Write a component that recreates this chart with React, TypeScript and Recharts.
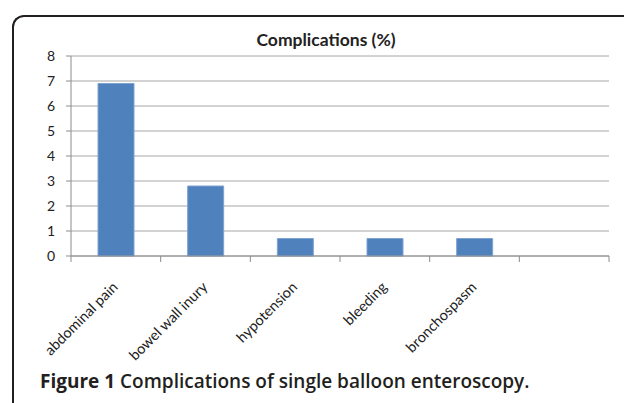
import { BarChart, Bar, XAxis, YAxis, CartesianGrid } from "recharts"

const categories = ["abdominal pain", "bowel wall inury", "hypotension", "bleeding", "bronchospasm", ""]
const complications = [6.9, 2.8, 0.7, 0.7, 0.7, null]
const yTicks = [0, 1, 2, 3, 4, 5, 6, 7, 8]

const data = categories.map((name, i) => ({ name, value: complications[i] }))

const CHART_W = 624
const CHART_H = 403
const PLOT_LEFT = 71
const PLOT_RIGHT = 609
const BAND = (PLOT_RIGHT - PLOT_LEFT) / categories.length
const FONT = "Lato, 'Open Sans', sans-serif"

// label rotated like excel, plus tick marks at the category boundaries
function CategoryTick(props: any) {
  const { x, y, payload, index } = props
  const left = x - BAND / 2
  return (
    <g>
      <line x1={left} y1={y - 8} x2={left} y2={y - 2} stroke="#8c8c8c" />
      {index === categories.length - 1 && (
        <line x1={left + BAND} y1={y - 8} x2={left + BAND} y2={y - 2} stroke="#8c8c8c" />
      )}
      <text
        x={x + 3}
        y={y + 24}
        textAnchor="end"
        transform={`rotate(-45 ${x + 3} ${y + 24})`}
        fontSize={14.5}
        fill="#222"
        fontFamily={FONT}
      >
        {payload.value}
      </text>
    </g>
  )
}

export default function App() {
  return (
    <div style={{ position: "fixed", left: 0, top: 0, width: CHART_W, height: CHART_H, background: "#fff", overflow: "hidden" }}>
      {/* frame, open at right and bottom */}
      <div
        style={{
          position: "absolute",
          left: 12,
          top: 15,
          width: 700,
          height: 500,
          borderLeft: "2px solid #231f20",
          borderTop: "2px solid #231f20",
          borderTopLeftRadius: 12,
        }}
      />
      <div
        style={{
          position: "absolute",
          left: 226,
          width: 200,
          top: 29,
          textAlign: "center",
          fontFamily: FONT,
          fontWeight: 700,
          fontSize: 17.5,
          color: "#222",
        }}
      >
        Complications (%)
      </div>
      <div style={{ position: "absolute", left: 0, top: 0 }}>
        <BarChart
          width={CHART_W}
          height={CHART_H}
          data={data}
          margin={{ top: 56, right: CHART_W - PLOT_RIGHT, left: PLOT_LEFT - 40, bottom: 47 }}
          barCategoryGap="30%"
        >
          <CartesianGrid vertical={false} stroke="#a6a6a6" strokeWidth={1} />
          <YAxis
            width={40}
            domain={[0, 8]}
            ticks={yTicks}
            interval={0}
            axisLine={{ stroke: "#8c8c8c" }}
            tickLine={{ stroke: "#8c8c8c" }}
            tickSize={5}
            tickMargin={11}
            tick={{ fontSize: 14, fill: "#222", fontFamily: FONT }}
          />
          <XAxis
            dataKey="name"
            height={100}
            interval={0}
            axisLine={{ stroke: "#8c8c8c" }}
            tickLine={false}
            tick={<CategoryTick />}
          />
          <Bar dataKey="value" fill="#4f81bd" stroke="#7fa3d1" strokeWidth={1} barSize={36} isAnimationActive={false} />
        </BarChart>
      </div>
      <div
        style={{
          position: "absolute",
          left: 40,
          top: 368,
          fontFamily: "'Open Sans', sans-serif",
          fontSize: 19,
          fontWeight: 600,
          color: "#231f20",
          whiteSpace: "nowrap",
        }}
      >
        <span style={{ fontWeight: 700 }}>Figure 1</span> Complications of single balloon enteroscopy.
      </div>
    </div>
  )
}
